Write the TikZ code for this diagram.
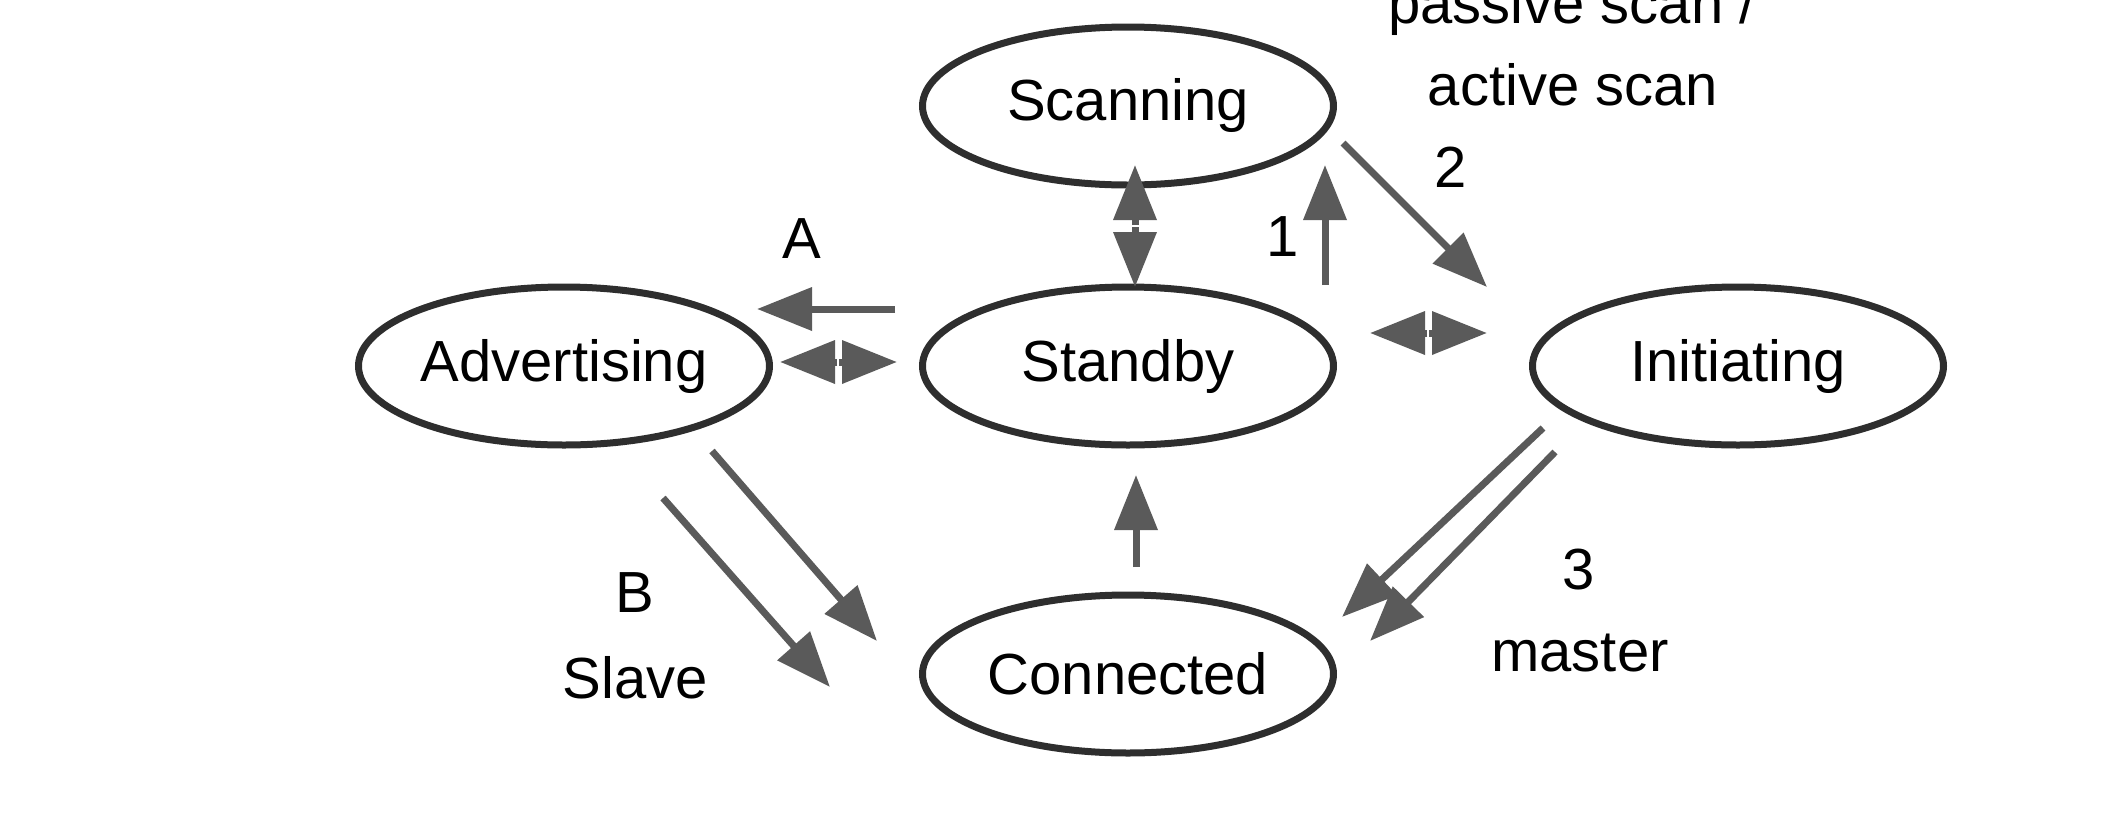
\documentclass[tikz,border=0pt]{standalone}
\usepackage{fontspec}
\setmainfont{Liberation Sans}
\usepackage{tikz}
\usetikzlibrary{arrows.meta,positioning,shapes.geometric,calc}
\definecolor{ringgray}{HTML}{2E2E2E}
\definecolor{arrgray}{HTML}{5A5A5A}
\begin{document}
\begin{tikzpicture}[>={Triangle[length=5.5mm,width=4.2mm]},s/.style={draw=ringgray,ellipse,line width=0.07cm,inner sep=0pt,minimum width=4.11cm,minimum height=1.58cm},a/.style={->,draw=arrgray,line width=0.07cm},every node/.append style={font=\fontsize{16.5}{20}\selectfont}]
\useasboundingbox (0,0) rectangle (21.26,8.27);
\node[s] (std) at (11.28,4.61) {Standby}; \node[s,above=0.95cm of std] (scan) {Scanning};
\node[s,left=1.46cm of std] (adv) {Advertising}; \node[s,right=1.92cm of std] (init) {Initiating};
\node[s,below=1.43cm of std] (conn) {Connected};
\draw[a] ($(std)+(-2.33,0.57)$) -- ($(adv)+(1.93,0.57)$);
\coordinate (m1) at ($(adv)+(2.74,0.04)$);
\draw[a,shorten <=0.1mm] (m1) -- ($(adv)+(2.16,0.04)$);
\draw[a,shorten <=0.1mm] (m1) -- ($(std)+(-2.31,0.04)$);
\coordinate (m2) at ($(std)+(0.07,1.40)$);
\draw[a,shorten <=0.1mm] (m2) -- ($(scan)+(0.07,-0.59)$);
\draw[a,shorten <=0.1mm] (m2) -- ($(std)+(0.07,0.79)$);
\draw[a] ($(std)+(1.97,0.81)$) -- ($(scan)+(1.97,-0.59)$);
\draw[a] ($(scan)+(2.15,-0.37)$) -- ($(init)+(-2.51,0.79)$);
\coordinate (m3) at ($(std)+(3.00,0.33)$);
\draw[a,shorten <=0.1mm] (m3) -- ($(std)+(2.42,0.33)$);
\draw[a,shorten <=0.1mm] (m3) -- ($(init)+(-2.51,0.33)$);
\draw[a] ($(conn)+(0.08,1.07)$) -- ($(std)+(0.08,-1.09)$);
\draw[a] ($(adv)+(1.48,-0.85)$) -- ($(conn)+(-2.51,0.33)$);
\draw[a] ($(adv)+(0.99,-1.32)$) -- ($(conn)+(-2.98,-0.13)$);
\draw[a] ($(init)+(-1.95,-0.62)$) -- ($(conn)+(2.14,0.57)$);
\draw[a] ($(init)+(-1.83,-0.86)$) -- ($(conn)+(2.42,0.33)$);
\node (la) at (8.02,5.88) {A}; \node (l1) at (12.83,5.90) {1}; \node (l2) at (14.51,6.60) {2};
\node[anchor=base] (lpas) at (15.72,8.04) {passive scan /}; \node[anchor=base] (lact) at (15.73,7.22) {active scan};
\node (l3) at (15.79,2.57) {3}; \node (lmas) at (15.80,1.74) {master};
\node (lb) at (6.35,2.34) {B}; \node (lsla) at (6.35,1.49) {Slave};
\end{tikzpicture}
\end{document}
